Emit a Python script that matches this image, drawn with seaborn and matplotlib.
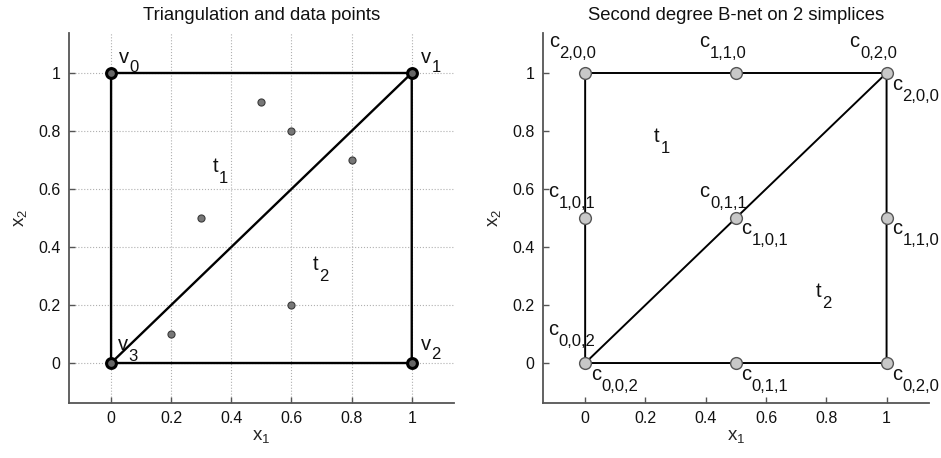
import matplotlib
matplotlib.use("Agg")
import matplotlib.pyplot as plt
import seaborn as sns

# ---- data ----
vert_x = [0, 1, 1, 0]
vert_y = [1, 1, 0, 0]

data_x = [0.5, 0.6, 0.8, 0.3, 0.2, 0.6]
data_y = [0.9, 0.8, 0.7, 0.5, 0.1, 0.2]

edge_x = [0, 1, 1, 0, 0, 1]
edge_y = [0, 0, 1, 1, 0, 1]

bnet_x = [0, 0.5, 1, 0, 0.5, 1, 0, 0.5, 1]
bnet_y = [1, 1, 1, 0.5, 0.5, 0.5, 0, 0, 0]

ticks = [0, 0.2, 0.4, 0.6, 0.8, 1]
tick_labels = ["0", "0.2", "0.4", "0.6", "0.8", "1"]

titles = ["Triangulation and data points", "Second degree B-net on 2 simplices"]

# labels: (x, y, main, sub, drop_px)
left_labels = [
    (0.027, 1.034, "v", "0", 9),
    (1.03, 1.034, "v", "1", 9),
    (1.03, 0.045, "v", "2", 9),
    (0.022, 0.045, "v", "3", 11),
    (0.337, 0.659, "t", "1", 11),
    (0.67, 0.321, "t", "2", 11),
]
right_labels = [
    (-0.12, 1.09, "c", "2,0,0", 11),
    (0.379, 1.09, "c", "1,1,0", 11),
    (0.877, 1.09, "c", "0,2,0", 11),
    (1.017, 0.941, "c", "2,0,0", 11),
    (-0.123, 0.574, "c", "1,0,1", 11),
    (0.379, 0.574, "c", "0,1,1", 11),
    (0.517, 0.445, "c", "1,0,1", 11),
    (1.017, 0.445, "c", "1,1,0", 11),
    (0.229, 0.762, "t", "1", 11),
    (0.766, 0.228, "t", "2", 11),
    (-0.123, 0.097, "c", "0,0,2", 11),
    (0.019, -0.059, "c", "0,0,2", 11),
    (0.517, -0.059, "c", "0,1,1", 11),
    (1.017, -0.059, "c", "0,2,0", 11),
]

# ---- style ----
sns.set_theme(style="white")
plt.rcParams["font.family"] = ["Liberation Sans", "DejaVu Sans"]
plt.rcParams["mathtext.fontset"] = "custom"
plt.rcParams["mathtext.rm"] = "Liberation Sans"
plt.rcParams["mathtext.it"] = "Liberation Sans"

fig = plt.figure(figsize=(9.41, 4.58), dpi=100)
axL = fig.add_axes([0.0733, 0.120, 0.409, 0.808])
axR = fig.add_axes([0.577, 0.120, 0.410, 0.808])

MAIN = 14.5
SUB = 12
WIDTH = {"v": 0.5, "c": 0.5, "t": 0.278}


def style_axes(ax, title, grid):
    ax.set_xlim(-0.14, 1.14)
    ax.set_ylim(-0.138, 1.138)
    ax.set_xticks(ticks)
    ax.set_xticklabels(tick_labels)
    ax.set_yticks(ticks)
    ax.set_yticklabels(tick_labels)
    ax.tick_params(direction="in", length=4, width=1, color="#555555",
                   labelsize=11.5, pad=6, left=True, bottom=True,
                   labelcolor="#111111")
    for s in ["top", "right"]:
        ax.spines[s].set_visible(False)
    for s in ["left", "bottom"]:
        ax.spines[s].set_color("#555555")
        ax.spines[s].set_linewidth(1.3)
    ax.set_xlabel(r"$\mathregular{x_1}$", fontsize=13.5, labelpad=1)
    ax.set_ylabel(r"$\mathregular{x_2}$", fontsize=13.5, labelpad=7)
    ax.set_title(title, fontsize=13.3, pad=9, color="#111111")
    if grid:
        ax.grid(True, linestyle=":", color="#b0b0b0", linewidth=0.8)
        ax.set_axisbelow(True)
    else:
        ax.grid(False)


def put_labels(ax, labels):
    for x, y, main, sub, drop in labels:
        ax.text(x, y, main, fontsize=MAIN, ha="left", va="baseline",
                zorder=1, color="#111111")
        ax.annotate(sub, xy=(x, y), xycoords="data",
                    xytext=(WIDTH[main] * MAIN + 0.4, -drop * 0.72),
                    textcoords="offset points", fontsize=SUB,
                    ha="left", va="baseline", zorder=1, color="#111111")


style_axes(axL, titles[0], True)
style_axes(axR, titles[1], False)

# left panel
axL.plot(edge_x, edge_y, color="black", lw=1.7, zorder=2)
sns.scatterplot(x=data_x, y=data_y, ax=axL, s=26, color="#777777",
                edgecolor="#3a3a3a", linewidth=0.8, zorder=3)
sns.scatterplot(x=vert_x, y=vert_y, ax=axL, s=50, color="#666666",
                edgecolor="black", linewidth=2.2, zorder=4)
put_labels(axL, left_labels)

# right panel
axR.plot(edge_x, edge_y, color="black", lw=1.4, zorder=2)
sns.scatterplot(x=bnet_x, y=bnet_y, ax=axR, s=72, color="#c8c8c8",
                edgecolor="#555555", linewidth=1.0, zorder=4)
put_labels(axR, right_labels)

fig.savefig("out.png", dpi=100)
